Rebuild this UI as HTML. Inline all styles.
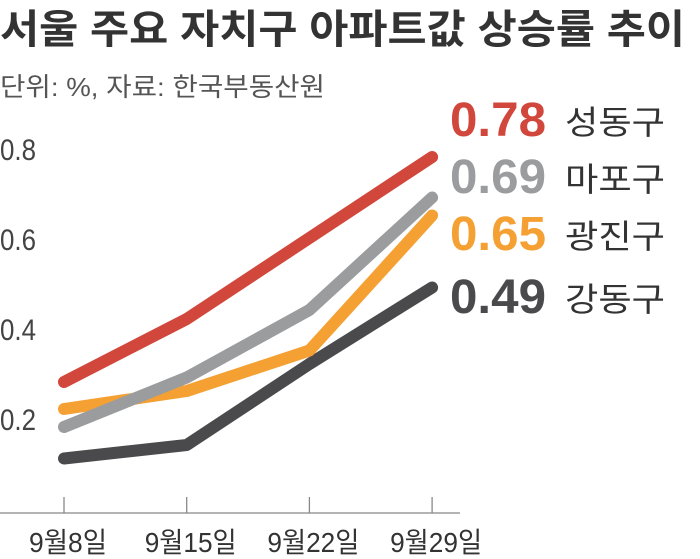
<!DOCTYPE html>
<html><head><meta charset="utf-8"><style>
html,body{margin:0;padding:0;background:#fff;width:700px;height:559px;overflow:hidden}
svg{display:block}
</style></head><body>
<svg id="chart" width="700" height="559" xmlns="http://www.w3.org/2000/svg">
<text x="0" y="43" font-family="'Liberation Sans','Noto Sans CJK KR',sans-serif" font-size="40" font-weight="bold" fill="#333" textLength="685" lengthAdjust="spacingAndGlyphs">서울 주요 자치구 아파트값 상승률 추이</text>
<text x="0" y="96" font-family="'Liberation Sans','Noto Sans CJK KR',sans-serif" font-size="26" fill="#555" textLength="325" lengthAdjust="spacingAndGlyphs">단위: %, 자료: 한국부동산원</text>
<g id="axes"></g>
<g id="lines"></g>
<g id="legend"></g>
</svg>
<script>
const categories = ["9월8일","9월15일","9월22일","9월29일"];
const names = ["성동구","마포구","광진구","강동구"];
const seongdong = [0.28,0.42,0.60,0.78];
const mapo = [0.18,0.29,0.44,0.69];
const gwangjin = [0.22,0.26,0.35,0.65];
const gangdong = [0.11,0.14,0.32,0.49];
const yTicks = [0.2,0.4,0.6,0.8];
const colors = ["#d2473b","#9b9c9e","#f5a033","#4a4a4c"];
const series = [seongdong, mapo, gwangjin, gangdong];

const NS="http://www.w3.org/2000/svg";
const x = i => 64 + i*122.7;
const y = v => 508 - v*450;
function mk(tag, attrs, parent){const e=document.createElementNS(NS,tag);for(const k in attrs)e.setAttribute(k,attrs[k]);parent.appendChild(e);return e;}
const axes=document.getElementById('axes'), lines=document.getElementById('lines'), legend=document.getElementById('legend');

const base=mk('line',{x1:0,x2:460,y1:513,y2:513,stroke:'#888','stroke-width':1.3},axes);


yTicks.forEach(t=>{
  const tx=mk('text',{x:0,y:y(t)+12,'font-family':"'Liberation Sans',sans-serif",'font-size':30,fill:'#444',textLength:36,lengthAdjust:'spacingAndGlyphs'},axes);
  tx.textContent=t.toFixed(1);
  
  
});
categories.forEach((c,i)=>{
  const tk=mk('line',{x1:x(i),x2:x(i),y1:497,y2:513,stroke:'#888','stroke-width':1.3},axes);
  
  
  const tl=mk('text',{x:x(i)+4,y:552,'text-anchor':'middle','font-family':"'Liberation Sans','Noto Sans CJK KR',sans-serif",'font-size':28,fill:'#333',textLength:c.length>4?92:78,lengthAdjust:'spacingAndGlyphs'},axes);
  tl.textContent=c;
  
  
});
for(let s=series.length-1;s>=0;s--){
  const pts=series[s].map((v,i)=>x(i)+','+y(v)).join(' ');
  const pl=mk('polyline',{points:pts,fill:'none',stroke:colors[s],'stroke-width':12,'stroke-linecap':'round','stroke-linejoin':'round'},lines);
  
  
}
const rowY=[136,193,250,313];
series.forEach((d,s)=>{
  const v=mk('text',{x:450,y:rowY[s],'font-family':"'Liberation Sans',sans-serif",'font-size':48,'font-weight':'bold',fill:colors[s],textLength:96,lengthAdjust:'spacingAndGlyphs'},legend);
  v.textContent=d[d.length-1].toFixed(2);
  
  
  const n=mk('text',{x:565,y:rowY[s]-2,'font-family':"'Liberation Sans','Noto Sans CJK KR',sans-serif",'font-size':33,fill:'#333',textLength:100,lengthAdjust:'spacingAndGlyphs'},legend);
  n.textContent=names[s];
  
  
});
</script>
</body></html>
